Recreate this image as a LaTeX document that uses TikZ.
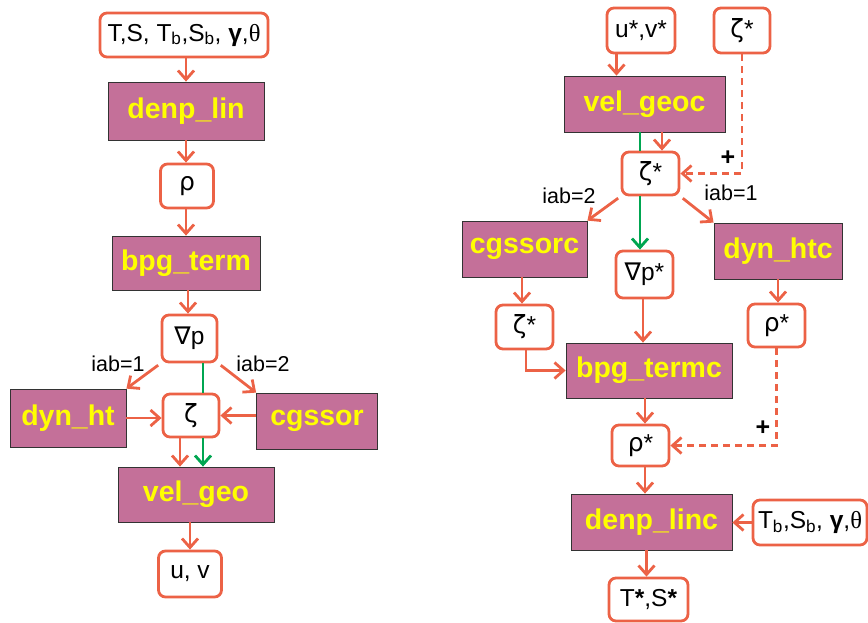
\documentclass[tikz,border=0pt]{standalone}
\usepackage{fontspec}
\setmainfont{Liberation Sans}
\newfontfamily\serifgr{Liberation Serif}
\newfontfamily\dejavu{DejaVu Sans}
\newcommand{\gz}{{\dejavu\fontsize{25}{26}\selectfont ζ}}
\newcommand{\gr}{{\dejavu\fontsize{25}{26}\selectfont ρ}}
\usetikzlibrary{arrows.meta,calc}
\definecolor{orng}{RGB}{236,98,70}
\definecolor{purp}{RGB}{196,112,153}
\definecolor{grn}{RGB}{0,166,81}
\definecolor{yel}{RGB}{255,255,0}
\tikzset{
  sz/.style 2 args={minimum width=#1pt, minimum height=#2pt},
  varbox/.style={draw=orng, line width=2.8pt, rounded corners=7pt, fill=white, inner sep=0pt,
    font=\fontsize{24.5}{26}\selectfont},
  procbox/.style={draw=black!80, line width=0.8pt, fill=purp, inner sep=0pt, text=yel,
    font=\fontsize{28.5}{30}\selectfont\bfseries},
  arr/.style={draw=orng, line width=2.8pt, -{Straight Barb[length=9pt,width=16pt,line width=2.8pt]}},
  garr/.style={draw=grn, line width=2.8pt, -{Straight Barb[length=9pt,width=16pt,line width=2.8pt]}},
  gline/.style={draw=grn, line width=2.8pt},
  darr/.style={arr, dash pattern=on 7pt off 5pt},
  lab/.style={font=\fontsize{21.5}{23}\selectfont, inner sep=0pt},
  plus/.style={font=\fontsize{25}{26}\selectfont\bfseries, inner sep=0pt}
}
\begin{document}
\begin{tikzpicture}[x=1pt,y=-1pt]
\useasboundingbox (0,0) rectangle (868,622);
% ---------- left column ----------
\node[varbox, sz={168}{44}] (in1) at (184,35) {T,S, T\textsubscript{b},S\textsubscript{b}, \textbf{γ},{\serifgr θ}};
\node[procbox, sz={156}{58}] (dl) at (186,111) {denp\_lin};
\node[varbox, sz={53}{44}] (rho) at (187,186) {\gr};
\node[procbox, sz={148}{54}] (bpg) at (186,263) {bpg\_term};
\node[varbox, sz={55}{47}] (gp) at (189.5,338.5) {{\dejavu ∇}p};
\node[procbox, sz={116}{58}] (dyn) at (68,418) {dyn\_ht};
\node[varbox, sz={56}{43}] (zeta) at (191,415.5) {\gz};
\node[procbox, sz={121}{56}] (cgs) at (317,421) {cgssor};
\node[procbox, sz={156}{55}] (vg) at (196,494.5) {vel\_geo};
\node[varbox, sz={63}{46}] (uv) at (190,574) {u, v};

\draw[arr] (in1.south -| dl.north) -- (dl.north);
\draw[arr] (dl.south) -- (dl.south |- rho.north);
\draw[arr] (rho.south -| bpg.north) -- (bpg.north);
\draw[arr] ([xshift=-1.5pt]gp.north |- bpg.south) -- ([xshift=-1.5pt]gp.north);
\draw[arr, shorten <=3pt] (gp.south west) -- (dyn.north east);
\draw[arr, shorten <=3pt] (gp.south east) -- (cgs.north west);
\node[lab] (l1) at (118,364) {iab=1};
\node[lab] (l2) at (263,364) {iab=2};
\draw[gline] ([xshift=13.5pt]gp.south) -- ([xshift=13.5pt]gp.south |- zeta.north);
\draw[arr] (dyn.east) -- (dyn.east -| zeta.west);
\draw[arr] (cgs.west |- zeta.east) -- (zeta.east);
\draw[arr] ([xshift=-11pt]zeta.south) -- ([xshift=-11pt]zeta.south |- vg.north);
\draw[garr] ([xshift=12pt]zeta.south) -- ([xshift=12pt]zeta.south |- vg.north);
\draw[arr] (vg.south -| uv.north) -- (uv.north);

% ---------- right column ----------
\node[varbox, sz={68}{45}] (uvs) at (641,30.5) {u*,v*};
\node[varbox, sz={56}{45}] (zs1) at (742,30.5) {\gz*};
\node[procbox, sz={161}{56}] (vgc) at (644.5,104) {vel\_geoc};
\node[varbox, sz={57}{43}] (zs2) at (650.5,173.5) {\gz*};
\node[procbox, sz={125}{56}] (cgc) at (524.5,249) {cgssorc};
\node[varbox, sz={57}{47}] (gps) at (644.5,274.5) {{\dejavu ∇}p*};
\node[procbox, sz={128}{56}] (dhc) at (778,251) {dyn\_htc};
\node[varbox, sz={57}{44}] (zs3) at (524.5,327) {\gz*};
\node[varbox, sz={57}{43}] (rs1) at (776.5,325.5) {\gr*};
\node[procbox, sz={166}{55}] (bpc) at (649,370.5) {bpg\_termc};
\node[varbox, sz={57}{41}] (rs2) at (640.5,445.5) {\gr*};
\node[procbox, sz={161}{56}] (dlc) at (651.5,522) {denp\_linc};
\node[varbox, sz={114}{45}] (tb) at (810,522.5) {T\textsubscript{b},S\textsubscript{b}, \textbf{γ},{\serifgr θ}};
\node[varbox, sz={79}{43}] (ts) at (648.5,599.5) {T\textbf{*},S\textbf{*}};

\draw[arr] ([xshift=-28pt]uvs.south -| vgc.north) -- ([xshift=-28pt]vgc.north);
\draw[darr] (zs1.south) |- (zs2.east);
\node[plus] (p1) at (728,158) {+};
\draw[gline] ([xshift=-4.5pt]vgc.south) -- ([xshift=-4.5pt]vgc.south |- zs2.north);
\draw[arr] ([xshift=17.5pt]vgc.south) -- ([xshift=17.5pt]vgc.south |- zs2.north);
\draw[garr] ([xshift=-10.5pt]zs2.south) -- ([xshift=-10.5pt]zs2.south |- gps.north);
\draw[arr, shorten <=3pt] (zs2.south west) -- (cgc.north east);
\draw[arr, shorten <=3pt] (zs2.south east) -- (dhc.north west);
\node[lab] (l3) at (569,196) {iab=2};
\node[lab] (l4) at (731,193) {iab=1};
\draw[arr] ([xshift=-2.5pt]cgc.south) -- ([xshift=-2.5pt]cgc.south |- zs3.north);
\draw[arr] ([xshift=1.5pt]zs3.south) |- (bpc.west);
\draw[arr] ([xshift=-1.5pt]gps.south) -- ([xshift=-1.5pt]gps.south |- bpc.north);
\draw[arr] (dhc.south) -- (dhc.south |- rs1.north);
\draw[darr] (rs1.south) |- (rs2.east);
\node[plus] (p2) at (763,428) {+};
\draw[arr] ([xshift=-4pt]bpc.south) -- ([xshift=-4pt]bpc.south |- rs2.north);
\draw[arr] ([xshift=4.5pt]rs2.south) -- ([xshift=4.5pt]rs2.south |- dlc.north);
\draw[arr] (tb.west) -- (tb.west -| dlc.east);
\draw[arr] ([xshift=-5pt]dlc.south) -- ([xshift=-5pt]dlc.south |- ts.north);
\end{tikzpicture}
\end{document}
